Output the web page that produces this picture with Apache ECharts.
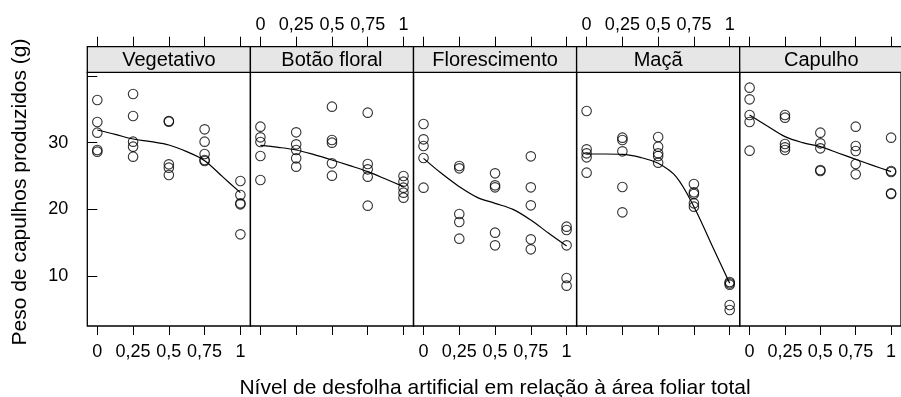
<!DOCTYPE html>
<html>
<head>
<meta charset="utf-8">
<script src="https://cdn.jsdelivr.net/npm/echarts@6/dist/echarts.min.js"></script>
<style>
  html, body { margin: 0; padding: 0; background: #fff; }
  #chart { width: 901px; height: 397px; }
</style>
</head>
<body>
<div id="chart"></div>
<script>
// Growth stages (one panel each) and defoliation levels
const stages = ['Vegetativo', 'Botão floral', 'Florescimento', 'Maçã', 'Capulho'];
const levels = [0, 0.25, 0.5, 0.75, 1];
const levelLabels = ['0', '0,25', '0,5', '0,75', '1'];
const yTickValues = [10, 20, 30, 40];
const yLabelValues = [10, 20, 30];

// Boll weight (g) per plot, grouped by defoliation level
const pesoVegetativo = [
  [36.4, 33.1, 31.5, 28.9, 28.65],
  [37.3, 34.0, 30.15, 29.4, 27.9],
  [33.25, 33.15, 26.75, 26.25, 25.15],
  [32.0, 30.15, 28.3, 27.4, 27.25],
  [24.25, 22.15, 20.9, 20.75, 16.25]
];
const pesoBotaoFloral = [
  [32.4, 30.8, 30.1, 28.0, 24.4],
  [31.55, 29.75, 28.9, 27.65, 26.4],
  [35.4, 30.4, 30.0, 26.9, 25.05],
  [34.5, 26.8, 26.0, 24.9, 20.55],
  [25.0, 24.15, 23.25, 22.5, 21.75]
];
const pesoFlorescimento = [
  [32.8, 30.5, 29.5, 27.7, 23.25],
  [26.5, 26.15, 19.3, 18.1, 15.6],
  [25.4, 23.6, 23.3, 16.5, 14.6],
  [27.95, 23.3, 20.6, 15.5, 14.0],
  [17.4, 16.9, 14.6, 9.7, 8.55]
];
const pesoMaca = [
  [34.75, 29.0, 28.4, 27.8, 25.5],
  [30.75, 30.4, 28.7, 23.35, 19.55],
  [30.85, 29.4, 28.4, 28.0, 27.0],
  [23.8, 22.55, 22.3, 20.9, 20.4],
  [9.1, 8.9, 8.7, 5.65, 4.9]
];
const pesoCapulho = [
  [38.25, 36.5, 34.15, 33.1, 28.8],
  [34.15, 33.75, 29.8, 29.3, 28.9],
  [31.5, 29.9, 29.15, 25.9, 25.75],
  [32.4, 29.5, 28.75, 26.8, 25.25],
  [30.75, 25.75, 25.6, 22.4, 22.3]
];

// Smoothed trend, read at eighth steps of the defoliation level
const curveLevels = [0, 0.125, 0.25, 0.375, 0.5, 0.625, 0.75, 0.875, 1];
const curveVegetativo = [31.9, 31.25, 30.55, 30.15, 29.65, 28.65, 27.3, 24.9, 22.5];
const curveBotaoFloral = [29.6, 29.3, 28.9, 28.2, 27.4, 26.55, 25.65, 24.55, 23.4];
const curveFlorescimento = [27.65, 25.4, 23.4, 21.8, 20.9, 20.0, 18.4, 16.4, 14.5];
const curveMaca = [28.3, 28.3, 28.25, 27.8, 26.9, 24.9, 20.4, 14.65, 8.9];
const curveCapulho = [34.15, 32.5, 30.9, 30.0, 29.4, 28.45, 27.5, 26.55, 25.65];

const pointsByStage = [pesoVegetativo, pesoBotaoFloral, pesoFlorescimento, pesoMaca, pesoCapulho];
const curvesByStage = [curveVegetativo, curveBotaoFloral, curveFlorescimento, curveMaca, curveCapulho];

// Panel layout (pixels)
const PANEL_LEFT = 87.3;
const PANEL_W = 163.1;
const STRIP_TOP = 46.7;
const STRIP_H = 25.6;
const PANEL_TOP = STRIP_TOP + STRIP_H;
const PANEL_BOTTOM = 326;
const FONT = '"Liberation Sans", Arial, Helvetica, sans-serif';

const X_MIN = -0.07, X_MAX = 1.07;
const Y_MIN = 2.5, Y_MAX = 40.555;

const labelFor = v => levelLabels[levels.indexOf(v)] ?? String(v);

const grids = [], xAxes = [], yAxes = [], series = [], graphics = [];

stages.forEach((stage, i) => {
  const left = PANEL_LEFT + i * PANEL_W;
  grids.push({
    left: left, top: PANEL_TOP, width: PANEL_W, height: PANEL_BOTTOM - PANEL_TOP,
    show: true, borderColor: '#000', borderWidth: 1.3, backgroundColor: 'transparent'
  });

  const common = {
    gridIndex: i, type: 'value', min: X_MIN, max: X_MAX,
    axisLine: { show: false }, splitLine: { show: false }
  };
  // bottom axis (labels on alternate panels)
  xAxes.push(Object.assign({}, common, {
    position: 'bottom',
    axisTick: { show: true, length: 9, customValues: levels, lineStyle: { color: '#000', width: 1 } },
    axisLabel: {
      show: i % 2 === 0, customValues: levels, formatter: labelFor,
      margin: 17, fontSize: 18, color: '#000', fontFamily: FONT
    }
  }));
  // top axis above the strip
  xAxes.push(Object.assign({}, common, {
    position: 'top', offset: STRIP_H,
    axisTick: { show: true, length: 10, customValues: levels, lineStyle: { color: '#000', width: 1 } },
    axisLabel: {
      show: i % 2 === 1, customValues: levels, formatter: labelFor,
      margin: 13, fontSize: 18, color: '#000', fontFamily: FONT
    }
  }));

  yAxes.push({
    gridIndex: i, type: 'value', min: Y_MIN, max: Y_MAX,
    axisLine: { show: false }, splitLine: { show: false },
    axisTick: { show: i === 0, length: 10, customValues: yTickValues, lineStyle: { color: '#000', width: 1 } },
    axisLabel: {
      show: i === 0, customValues: yLabelValues, margin: 19,
      fontSize: 18, color: '#000', fontFamily: FONT
    }
  });

  const pts = [];
  pointsByStage[i].forEach((vals, k) => vals.forEach(v => pts.push([levels[k], v])));
  series.push({
    type: 'scatter', xAxisIndex: 2 * i, yAxisIndex: i, data: pts,
    symbol: 'circle', symbolSize: 9.5,
    itemStyle: { color: 'rgba(0,0,0,0)', borderColor: '#000', borderWidth: 1.1 },
    emphasis: { disabled: true }, silent: true
  });
  series.push({
    type: 'line', xAxisIndex: 2 * i, yAxisIndex: i,
    data: curveLevels.map((x, k) => [x, curvesByStage[i][k]]),
    smooth: 0.35, showSymbol: false, symbol: 'none',
    lineStyle: { color: '#000', width: 1.2 }, silent: true
  });

  // strip with the stage name
  graphics.push({
    type: 'rect', z: 10,
    shape: { x: left, y: STRIP_TOP, width: PANEL_W, height: STRIP_H },
    style: { fill: '#e6e6e6', stroke: '#000', lineWidth: 1.3 }
  });
  graphics.push({
    type: 'text', z: 11,
    x: left + PANEL_W / 2, y: STRIP_TOP + STRIP_H / 2 + 1,
    style: { text: stage, font: '20px ' + FONT, fill: '#000', align: 'center', verticalAlign: 'middle' }
  });
});

// axis titles
graphics.push({
  type: 'text', z: 11,
  x: PANEL_LEFT + 2.5 * PANEL_W, y: 388,
  style: {
    text: 'Nível de desfolha artificial em relação à área foliar total',
    font: '21px ' + FONT, fill: '#000', align: 'center', verticalAlign: 'middle'
  }
});
graphics.push({
  type: 'text', z: 11,
  x: 20, y: 192,
  rotation: Math.PI / 2,
  style: {
    text: 'Peso de capulhos produzidos (g)',
    font: '21px ' + FONT, fill: '#000', align: 'center', verticalAlign: 'middle'
  }
});

const chart = echarts.init(document.getElementById('chart'), null, { renderer: 'canvas' });
chart.setOption({
  animation: false,
  backgroundColor: '#fff',
  grid: grids, xAxis: xAxes, yAxis: yAxes, series: series,
  graphic: graphics
});
</script>
</body>
</html>
